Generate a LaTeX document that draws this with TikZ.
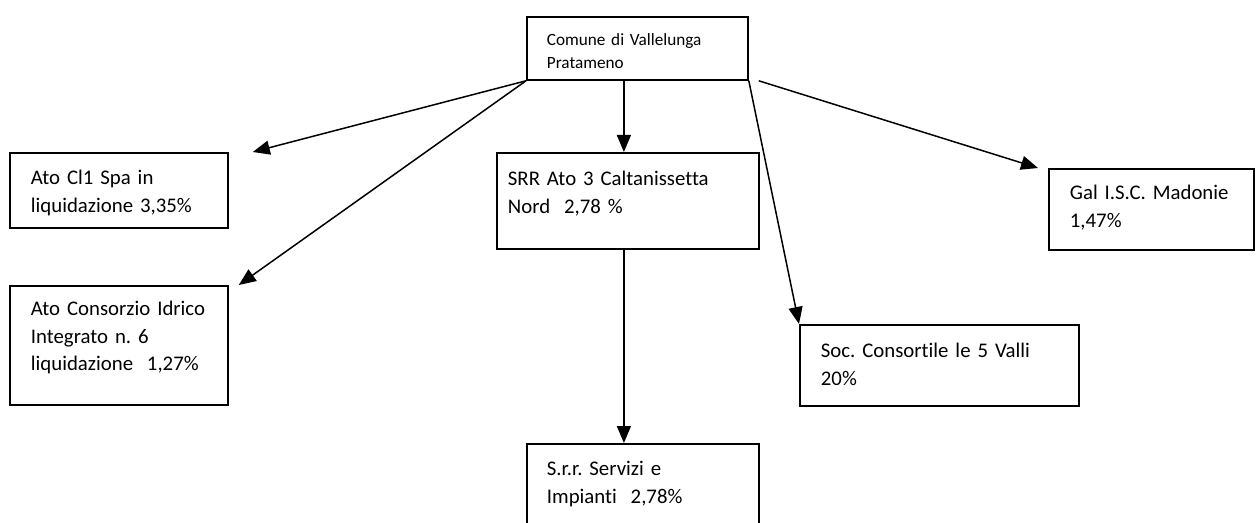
\documentclass[tikz,border=0pt]{standalone}
\usepackage{fontspec}
\setmainfont{Carlito}[Ligatures=NoCommon]
\frenchspacing
\usetikzlibrary{arrows.meta}
\tikzstyle{entity} = [rectangle, draw=black, line width=0.9pt, anchor=north west, align=left, inner xsep=10.5pt, inner ysep=0pt, text height=16pt, font=\fontsize{10.4}{13.6}\selectfont]
\tikzstyle{arrow} = [line width=0.75pt, -{Triangle[length=8.5pt,width=7pt]}]

\begin{document}
\begin{tikzpicture}[x=0.5pt, y=-0.5pt]
\clip (0,0) rectangle (1256,523);

% Top Node
\node (comune) [entity, inner xsep=10pt, text width=90.5pt, text height=14.5pt, text depth=17pt, font=\fontsize{8.6}{11.5}\selectfont] at (526,16) {Comune di Vallelunga\\Pratameno};

% Participated Nodes
\node (atocl) [entity, text width=88pt, text depth=21.5pt] at (9,152) {Ato Cl1 Spa in\\liquidazione 3,35\%};
\node (atoidrico) [entity, text width=88pt, text height=15pt, text depth=44.5pt] at (9,285) {Ato Consorzio Idrico\\Integrato n. 6\\liquidazione\ \ 1,27\%};
\node (srr) [entity, inner xsep=5.5pt, text width=120pt, text height=16.5pt, text depth=31.5pt] at (496,152) {SRR Ato 3 Caltanissetta\\Nord\ \ 2,78 \%};
\node (servizi) [entity, inner xsep=10pt, text width=96pt, text depth=34pt] at (526,443) {S.r.r. Servizi e\\Impianti\ \ 2,78\%};
\node (vallis) [entity, text width=118.5pt, text height=16.5pt, text depth=24pt] at (799,324) {Soc. Consortile le 5 Valli\\20\%};
\node (gal) [entity, text width=81.5pt, text height=15.5pt, text depth=25pt] at (1048,168) {Gal I.S.C. Madonie\\1,47\%};

% Arrows between nodes
\draw [arrow] (comune.south west) -- ([xshift=12pt]atocl.north east);
\draw [arrow] (comune.south west) -- ([xshift=5pt]atoidrico.north east);
\draw [arrow] ([xshift=-2pt]srr.north |- comune.south) -- ([xshift=-2pt]srr.north);
\draw [arrow] ([xshift=-2pt]srr.south) -- ([xshift=-2pt]srr.south |- servizi.north);
\draw [arrow] (comune.south east) -- (vallis.north west);
\draw [arrow] ([xshift=5pt]comune.south east) -- ([xshift=-5pt]gal.north west);

\end{tikzpicture}
\end{document}
